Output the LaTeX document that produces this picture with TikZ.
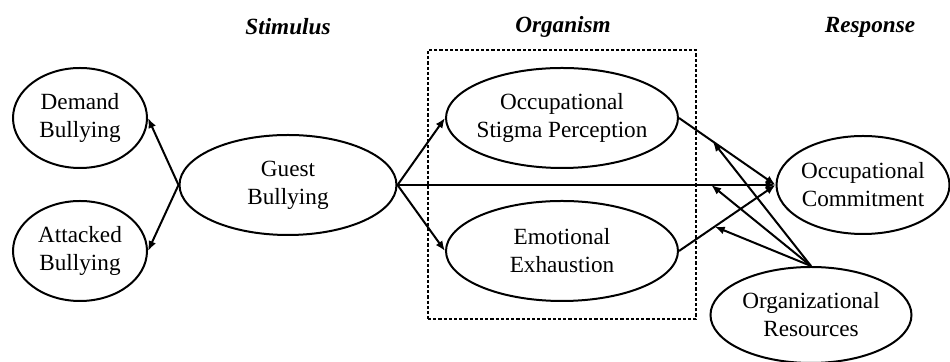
\documentclass[tikz,border=0pt]{standalone}
\usepackage{fontspec}
\setmainfont{Liberation Serif}
\usepackage{tikz}
\usetikzlibrary{shapes.geometric, arrows.meta, positioning, fit}

\begin{document}
\begin{tikzpicture}[
    x=0.5pt, y=-0.5pt,
    >={Latex[length=5pt, width=4pt]},
    % Node Styles
    construct/.style={ellipse, draw=black, line width=1pt, inner sep=0pt, align=center, font=\fontsize{11.6}{14}\selectfont},
    stagetitle/.style={font=\fontsize{11.6}{14}\selectfont\bfseries\itshape},
    stagebox/.style={rectangle, draw=black, line width=0.9pt, dash pattern=on 1.6pt off 1pt, inner sep=8.5pt},
    % Arrow Styles
    patharrow/.style={->, line width=1pt},
    modarrow/.style={->, line width=1pt}
]
    \useasboundingbox (0,0) rectangle (950,362);

    % =========================================================================
    % 1. STAGE TITLES
    % =========================================================================
    \node (stimtitle) [stagetitle] at (288, 27) {Stimulus};
    \node (orgtitle)  [stagetitle] at (563, 27) {Organism};
    \node (resptitle) [stagetitle] at (870, 27) {Response};

    % =========================================================================
    % 2. STIMULUS
    % =========================================================================
    \node (demand)   [construct, minimum width=67pt, minimum height=50pt] at (80, 118) {Demand\\Bullying};
    \node (attacked) [construct, minimum width=67pt, minimum height=50pt] at (80, 251) {Attacked\\Bullying};
    \node (guest)    [construct, minimum width=108.5pt, minimum height=50pt] at (288, 185) {Guest\\Bullying};

    % =========================================================================
    % 3. ORGANISM
    % =========================================================================
    \node (stigma)     [construct, inner xsep=-2pt, minimum width=116pt, minimum height=50pt] at (562, 118) {Occupational\\Stigma Perception};
    \node (exhaustion) [construct, minimum width=116pt, minimum height=50pt] at (562, 251) {Emotional\\Exhaustion};
    \node (orgbox) [stagebox, fit=(stigma) (exhaustion)] {};

    % =========================================================================
    % 4. RESPONSE & MODERATOR
    % =========================================================================
    \node (commit)    [construct, inner xsep=-1pt, minimum width=86.5pt, minimum height=49pt] at (863, 185) {Occupational\\Commitment};
    \node (resources) [construct, minimum width=100.5pt, minimum height=48pt] at (811, 315) {Organizational\\Resources};

    % =========================================================================
    % CONNECTIONS
    % =========================================================================
    % 1. Dimensions of guest bullying
    \draw[patharrow] (guest.west) -- (demand.east);
    \draw[patharrow] (guest.west) -- (attacked.east);

    % 2. Stimulus -> Organism -> Response
    \draw[patharrow] (guest.east) -- (stigma.west);
    \draw[patharrow] (guest.east) -- (exhaustion.west);
    \draw[patharrow] (guest.east) -- (commit.west) coordinate[pos=0.83] (mod_direct);
    \draw[patharrow] (stigma.east) -- (commit.west) coordinate[pos=0.35] (mod_stigma);
    \draw[patharrow] (exhaustion.east) -- (commit.west) coordinate[pos=0.37] (mod_exhaust);

    % 3. Moderating effects
    \draw[modarrow] (resources.north) -- (mod_stigma);
    \draw[modarrow] (resources.north) -- (mod_direct);
    \draw[modarrow] (resources.north) -- (mod_exhaust);

\end{tikzpicture}
\end{document}
